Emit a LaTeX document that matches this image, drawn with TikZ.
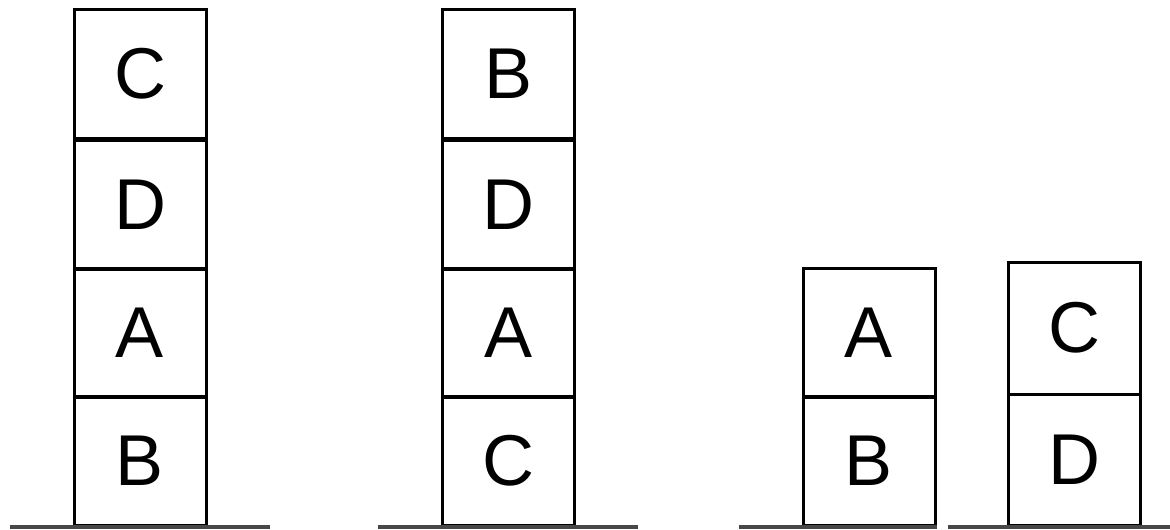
\documentclass[tikz,border=0pt]{standalone}
\usepackage{fontspec}
\setmainfont{Liberation Sans}
\begin{document}
\begin{tikzpicture}[x=1pt,y=-1pt,
  block/.style={draw=black,line width=3pt,minimum width=132pt,minimum height=129pt,inner sep=0pt,font=\fontsize{72}{76}\selectfont},
  ground/.style={draw=black!72,line width=4.5pt}]
\useasboundingbox (0,0) rectangle (1170,530);
% stack 1
\node[block] (s1b) at (140,461) {B};
\node[block] (s1a) at (140,333) {A};
\node[block] (s1d) at (140,204.5) {D};
\node[block] (s1c) at (140,74) {C};
% stack 2
\node[block] (s2c) at (508.5,461) {C};
\node[block] (s2a) at (508.5,333) {A};
\node[block] (s2d) at (508.5,204.5) {D};
\node[block] (s2b) at (508.5,74) {B};
% stack 3
\node[block] (s3b) at (869,461) {B};
\node[block] (s3a) at (869,333) {A};
% stack 4
\node[block,minimum height=131pt] (s4d) at (1074.5,459.5) {D};
\node[block,minimum height=132pt] (s4c) at (1074.5,328) {C};
% ground lines
\draw[ground] (10,527) -- (270,527);
\draw[ground] (378,527) -- (638,527);
\draw[ground] (739,527) -- (937,527);
\draw[ground] (948,527) -- (1170,527);
\end{tikzpicture}
\end{document}
